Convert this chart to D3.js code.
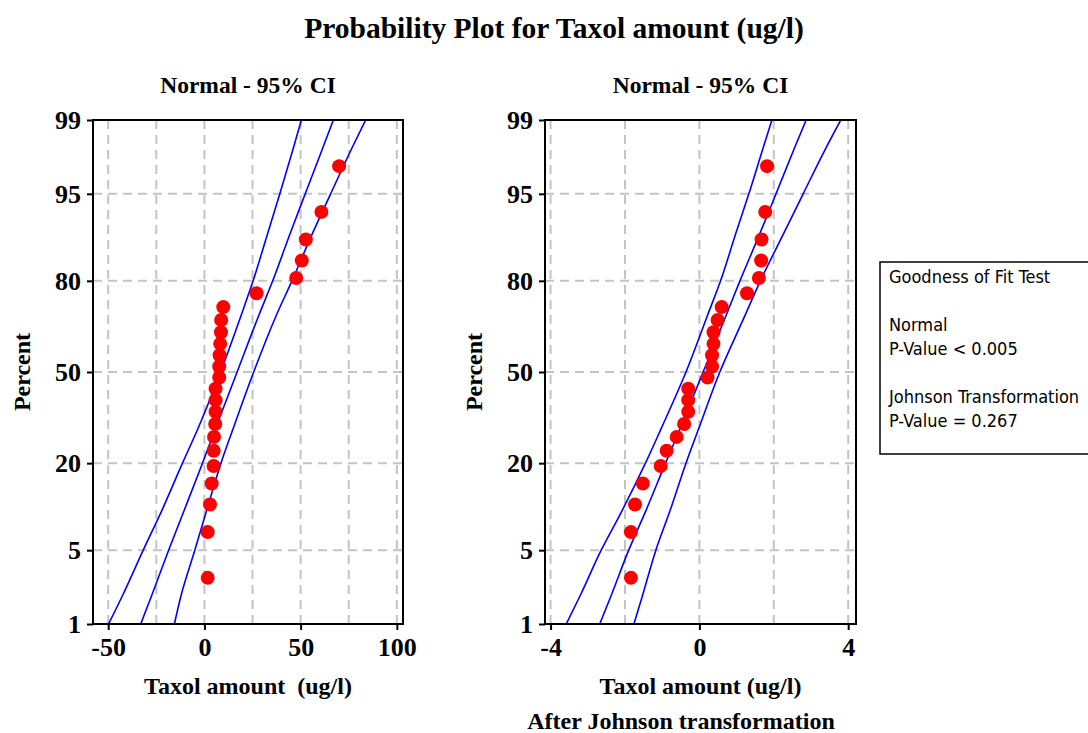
<!DOCTYPE html>
<html>
<head>
<meta charset="utf-8">
<script src="https://cdn.jsdelivr.net/npm/d3@7"></script>
<style>
  html, body { margin: 0; padding: 0; background: #fff; }
  svg { display: block; }
  .serif { font-family: "Liberation Serif", "Times New Roman", serif; font-weight: bold; fill: #000; }
  .legend text { font-family: "DejaVu Sans Condensed", "DejaVu Sans", sans-serif; font-size: 18px; fill: #000; }
</style>
</head>
<body>
<svg id="chart" width="1088" height="733"></svg>
<script>
// Percent axis ticks and plotting positions of the 24 observations
const percentTicks = [1, 5, 20, 50, 80, 95, 99];
const plotPercents = [2.87, 6.97, 11.07, 15.16, 19.26, 23.36, 27.46, 31.56, 35.66, 39.75, 43.85, 47.95,
                      52.05, 56.15, 60.25, 64.34, 68.44, 72.54, 76.64, 80.74, 84.84, 88.93, 93.03, 97.13];

// Observed Taxol amounts (ug/l), sorted
const taxolRaw = [1.7, 1.7, 2.9, 3.8, 4.8, 4.8, 5.0, 5.6, 5.8, 5.8, 5.8, 7.7,
                  7.7, 7.9, 8.2, 8.6, 8.7, 9.8, 27.1, 47.7, 50.6, 52.7, 60.8, 70.0];

// Same observations after the Johnson transformation
const taxolJohnson = [-1.84, -1.84, -1.73, -1.52, -1.04, -0.88, -0.61, -0.41, -0.30, -0.30, -0.30, 0.22,
                      0.34, 0.34, 0.38, 0.38, 0.49, 0.60, 1.28, 1.60, 1.66, 1.67, 1.77, 1.82];

// Fitted normal percentile line and 95% confidence bounds, by percent
const ciLevels = [1, 2, 5, 10, 20, 30, 50, 70, 80, 90, 95, 98, 99];
const rawLower = [-49.8, -42.3, -31.8, -22.2, -11.4, -3.4, 8.4, 19.1, 25.3, 32.9, 39.2, 46.0, 50.4];
const rawFit   = [-33.1, -27.2, -18.6, -10.6, -1.0, 5.7, 17.0, 28.3, 35.5, 44.6, 52.4, 61.2, 67.0];
const rawUpper = [-15.6, -12.0, -5.0, 1.1, 8.6, 14.9, 25.6, 37.4, 45.5, 56.2, 65.6, 76.3, 83.8];
const johnsonLower = [-3.58, -3.19, -2.64, -2.08, -1.45, -1.03, -0.36, 0.22, 0.57, 0.98, 1.33, 1.70, 1.95];
const johnsonFit   = [-2.68, -2.36, -1.90, -1.44, -0.91, -0.52, 0.10, 0.72, 1.09, 1.63, 2.06, 2.54, 2.87];
const johnsonUpper = [-1.76, -1.52, -1.17, -0.79, -0.36, -0.02, 0.55, 1.23, 1.64, 2.27, 2.79, 3.38, 3.80];

// Horizontal axis ticks and grid
const rawTicks = [-50, 0, 50, 100];
const rawGrid = [-50, -25, 0, 25, 50, 75, 100];
const johnsonTicks = [-4, 0, 4];
const johnsonGrid = [-4, -2, 0, 2, 4];

// Goodness-of-fit text block
const legendLines = ["Goodness of Fit Test", "", "Normal", "P-Value < 0.005", "", "Johnson Transformation", "P-Value = 0.267"];

// Inverse standard normal CDF (Acklam's rational approximation)
function probit(p) {
  const a = [-3.969683028665376e+01, 2.209460984245205e+02, -2.759285104469687e+02, 1.383577518672690e+02, -3.066479806614716e+01, 2.506628277459239e+00];
  const b = [-5.447609879822406e+01, 1.615858368580409e+02, -1.556989798598866e+02, 6.680131188771972e+01, -1.328068155288572e+01];
  const c = [-7.784894002430293e-03, -3.223964580411365e-01, -2.400758277161838e+00, -2.549732539343734e+00, 4.374664141464968e+00, 2.938163982698783e+00];
  const d = [7.784695709041462e-03, 3.224671290700398e-01, 2.445134137142996e+00, 3.754408661907416e+00];
  const pl = 0.02425, ph = 1 - pl;
  let q, r;
  if (p < pl) {
    q = Math.sqrt(-2 * Math.log(p));
    return (((((c[0]*q+c[1])*q+c[2])*q+c[3])*q+c[4])*q+c[5]) / ((((d[0]*q+d[1])*q+d[2])*q+d[3])*q+1);
  }
  if (p <= ph) {
    q = p - 0.5; r = q * q;
    return (((((a[0]*r+a[1])*r+a[2])*r+a[3])*r+a[4])*r+a[5])*q / (((((b[0]*r+b[1])*r+b[2])*r+b[3])*r+b[4])*r+1);
  }
  q = Math.sqrt(-2 * Math.log(1 - p));
  return -(((((c[0]*q+c[1])*q+c[2])*q+c[3])*q+c[4])*q+c[5]) / ((((d[0]*q+d[1])*q+d[2])*q+d[3])*q+1);
}

const svg = d3.select("#chart");
const plotTop = 120, plotBottom = 624;

// Probability scale: linear in normal quantile
const zScale = d3.scaleLinear()
  .domain([probit(0.01), probit(0.99)])
  .range([plotBottom, plotTop]);
const yPct = p => zScale(probit(p / 100));

svg.append("text").attr("class", "serif")
  .attr("x", 554).attr("y", 38)
  .attr("text-anchor", "middle").style("font-size", "29.5px")
  .text("Probability Plot for Taxol amount (ug/l)");

const panels = [
  { id: "raw", left: 93, right: 403, domain: [-57.9, 103.2], ticks: rawTicks, grid: rawGrid,
    values: taxolRaw, lower: rawLower, fit: rawFit, upper: rawUpper,
    yLabelX: 22, xLabel: "Taxol amount\u00a0 (ug/l)", extra: null },
  { id: "johnson", left: 545, right: 856, domain: [-4.15, 4.21], ticks: johnsonTicks, grid: johnsonGrid,
    values: taxolJohnson, lower: johnsonLower, fit: johnsonFit, upper: johnsonUpper,
    yLabelX: 474, xLabel: "Taxol amount (ug/l)", extra: "After Johnson transformation" }
];

panels.forEach(pn => {
  const x = d3.scaleLinear().domain(pn.domain).range([pn.left, pn.right]);
  const cx = (pn.left + pn.right) / 2;
  const g = svg.append("g");

  g.append("clipPath").attr("id", "clip-" + pn.id)
    .append("rect").attr("x", pn.left).attr("y", plotTop)
    .attr("width", pn.right - pn.left).attr("height", plotBottom - plotTop);

  // dashed grid
  const grid = g.append("g").attr("stroke", "#c4c4c4").attr("stroke-width", 2).attr("stroke-dasharray", "9,6");
  grid.selectAll("line.v").data(pn.grid).join("line").attr("class", "v")
    .attr("x1", d => x(d)).attr("x2", d => x(d)).attr("y1", plotTop).attr("y2", plotBottom);
  grid.selectAll("line.h").data(percentTicks).join("line").attr("class", "h")
    .attr("x1", pn.left).attr("x2", pn.right).attr("y1", d => yPct(d)).attr("y2", d => yPct(d));

  // fitted line and confidence bounds
  const line = d3.line().x(d => x(d[0])).y(d => yPct(d[1])).curve(d3.curveMonotoneY);
  const lg = g.append("g").attr("clip-path", "url(#clip-" + pn.id + ")");
  [pn.lower, pn.fit, pn.upper].forEach(arr => {
    lg.append("path")
      .datum(arr.map((v, i) => [v, ciLevels[i]]))
      .attr("fill", "none").attr("stroke", "#0000ff").attr("stroke-width", 1.6)
      .attr("d", line);
  });

  // observations
  g.append("g").selectAll("circle").data(pn.values).join("circle")
    .attr("cx", d => x(d)).attr("cy", (d, i) => yPct(plotPercents[i]))
    .attr("r", 7).attr("fill", "#ff0000");

  // frame
  g.append("rect").attr("x", pn.left).attr("y", plotTop)
    .attr("width", pn.right - pn.left).attr("height", plotBottom - plotTop)
    .attr("fill", "none").attr("stroke", "#000").attr("stroke-width", 2);

  // axes
  const yAxis = d3.axisLeft(zScale)
    .tickValues(percentTicks.map(p => probit(p / 100)))
    .tickFormat((d, i) => String(percentTicks[i]))
    .tickSize(6).tickSizeOuter(0).tickPadding(6);
  const ya = g.append("g").attr("transform", `translate(${pn.left},0)`).call(yAxis);
  const xAxis = d3.axisBottom(x).tickValues(pn.ticks).tickFormat(d => String(d))
    .tickSize(6).tickSizeOuter(0).tickPadding(8);
  const xa = g.append("g").attr("transform", `translate(0,${plotBottom})`).call(xAxis);
  [ya, xa].forEach(a => {
    a.select(".domain").remove();
    a.selectAll(".tick line").attr("stroke", "#000").attr("stroke-width", 2);
    a.selectAll(".tick text").attr("class", "serif").style("font-size", "26px").attr("fill", "#000");
  });
  xa.selectAll(".tick text").attr("dy", "0.71em");

  g.append("text").attr("class", "serif").attr("x", cx).attr("y", 93)
    .attr("text-anchor", "middle").style("font-size", "23.5px").text("Normal - 95% CI");

  g.append("text").attr("class", "serif")
    .attr("transform", `translate(${pn.yLabelX},${(plotTop + plotBottom) / 2}) rotate(-90)`)
    .attr("text-anchor", "middle").attr("dy", "0.35em").style("font-size", "24px").text("Percent");

  g.append("text").attr("class", "serif").attr("x", cx).attr("y", 694)
    .attr("text-anchor", "middle").style("font-size", "24px").style("white-space", "pre")
    .text(pn.xLabel);

  if (pn.extra) {
    g.append("text").attr("class", "serif").attr("x", 681).attr("y", 729)
      .attr("text-anchor", "middle").style("font-size", "24px").text(pn.extra);
  }
});

// goodness-of-fit box
const lgd = svg.append("g").attr("class", "legend");
lgd.append("rect").attr("x", 880).attr("y", 262).attr("width", 220).attr("height", 192)
  .attr("fill", "#fff").attr("stroke", "#000").attr("stroke-width", 1.5);
const lineY = d3.scaleLinear().domain([0, 6]).range([283, 427]);
lgd.selectAll("text").data(legendLines).join("text")
  .attr("x", 889).attr("y", (d, i) => lineY(i)).text(d => d);
</script>
</body>
</html>
